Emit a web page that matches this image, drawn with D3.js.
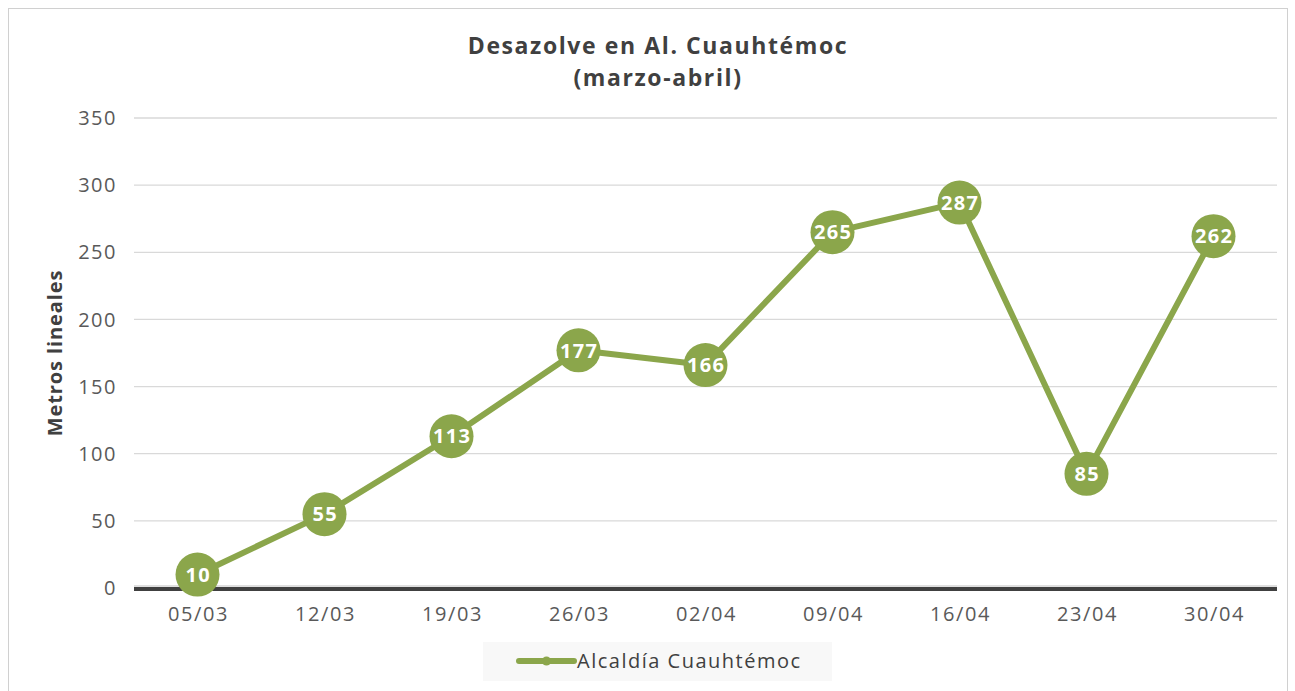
<!DOCTYPE html>
<html>
<head>
<meta charset="utf-8">
<script src="https://cdn.jsdelivr.net/npm/d3@7"></script>
<style>
  body { margin: 0; background: #fff; }
  text { font-family: "Open Sans", "Noto Sans", sans-serif; }
</style>
</head>
<body>
<div id="chart"></div>
<script>
const fechas = ["05/03", "12/03", "19/03", "26/03", "02/04", "09/04", "16/04", "23/04", "30/04"];
const metros = [10, 55, 113, 177, 166, 265, 287, 85, 262];
const yTicks = [0, 50, 100, 150, 200, 250, 300, 350];
const serieNombre = "Alcaldía Cuauhtémoc";

const W = 1295, H = 691;
const verde = "#8ba64b";

const svg = d3.select("#chart").append("svg")
    .attr("width", W)
    .attr("height", H);

// outer frame
svg.append("rect")
    .attr("x", 8.5).attr("y", 8.5)
    .attr("width", 1279).attr("height", 700)
    .attr("fill", "#fff")
    .attr("stroke", "#d0d0d0");

const x = d3.scaleBand().domain(fechas).range([134, 1277]);
const y = d3.scaleLinear().domain([0, 350]).range([588, 118]);

// gridlines
svg.append("g")
    .selectAll("line")
    .data(yTicks.filter(d => d > 0))
    .join("line")
    .attr("x1", 134).attr("x2", 1277)
    .attr("y1", d => y(d)).attr("y2", d => y(d))
    .attr("stroke", "#d9d9d9")
    .attr("stroke-width", 1.3);

// y tick labels
svg.append("g")
    .selectAll("text")
    .data(yTicks)
    .join("text")
    .attr("x", 117)
    .attr("y", d => y(d))
    .attr("dy", "0.36em")
    .attr("text-anchor", "end")
    .attr("fill", "#595959")
    .attr("font-size", 20)
    .attr("letter-spacing", 1.5)
    .text(d => d);

// x axis line
svg.append("line")
    .attr("x1", 134).attr("x2", 1277)
    .attr("y1", y(0) - 2).attr("y2", y(0) - 2)
    .attr("stroke", "#bfbfbf").attr("stroke-width", 1);
svg.append("line")
    .attr("x1", 134).attr("x2", 1277)
    .attr("y1", y(0) + 1).attr("y2", y(0) + 1)
    .attr("stroke", "#404040").attr("stroke-width", 4);

// x tick labels
svg.append("g")
    .selectAll("text")
    .data(fechas)
    .join("text")
    .attr("x", d => x(d) + x.bandwidth() / 2 + 1)
    .attr("y", 621)
    .attr("text-anchor", "middle")
    .attr("fill", "#595959")
    .attr("font-size", 20)
    .attr("letter-spacing", 1.6)
    .text(d => d);

// title (two lines)
svg.append("text")
    .attr("x", 658).attr("y", 54)
    .attr("text-anchor", "middle")
    .attr("font-size", 23).attr("font-weight", "bold")
    .attr("letter-spacing", 1.6)
    .attr("fill", "#404040")
    .text("Desazolve en Al. Cuauhtémoc");
svg.append("text")
    .attr("x", 658).attr("y", 86)
    .attr("text-anchor", "middle")
    .attr("font-size", 23).attr("font-weight", "bold")
    .attr("letter-spacing", 1.6)
    .attr("fill", "#404040")
    .text("(marzo-abril)");

// y axis label
svg.append("text")
    .attr("transform", "translate(62,353) rotate(-90)")
    .attr("text-anchor", "middle")
    .attr("font-size", 20).attr("font-weight", "bold")
    .attr("letter-spacing", 0.9)
    .attr("fill", "#404040")
    .text("Metros lineales");

// line
const datos = fechas.map((f, i) => ({ f: f, v: metros[i] }));
const linea = d3.line()
    .x(d => x(d.f) + x.bandwidth() / 2)
    .y(d => y(d.v));

svg.append("path")
    .datum(datos)
    .attr("d", linea)
    .attr("fill", "none")
    .attr("stroke", verde)
    .attr("stroke-width", 6)
    .attr("stroke-linejoin", "round");

const pts = svg.append("g").selectAll("g")
    .data(datos)
    .join("g")
    .attr("transform", d => `translate(${x(d.f) + x.bandwidth() / 2},${y(d.v)})`);

pts.append("circle")
    .attr("r", 22)
    .attr("fill", verde);

pts.append("text")
    .attr("text-anchor", "middle")
    .attr("dx", 0.7)
    .attr("dy", "0.36em")
    .attr("fill", "#fff")
    .attr("font-size", 20)
    .attr("font-weight", "bold")
    .attr("letter-spacing", 1.3)
    .text(d => d.v);

// legend
const leg = svg.append("g");
leg.append("rect")
    .attr("x", 483).attr("y", 642)
    .attr("width", 349).attr("height", 39)
    .attr("fill", "#f8f8f8");
leg.append("line")
    .attr("x1", 519).attr("x2", 574)
    .attr("y1", 661).attr("y2", 661)
    .attr("stroke", verde).attr("stroke-width", 6)
    .attr("stroke-linecap", "round");
leg.append("circle")
    .attr("cx", 546.5).attr("cy", 661).attr("r", 4.5)
    .attr("fill", verde);
leg.append("text")
    .attr("x", 577).attr("y", 661)
    .attr("dy", "0.36em")
    .attr("font-size", 20)
    .attr("letter-spacing", 1.5)
    .attr("fill", "#404040")
    .text(serieNombre);
</script>
</body>
</html>
